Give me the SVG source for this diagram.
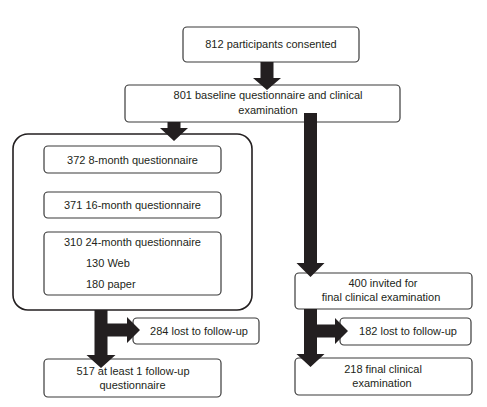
<svg xmlns="http://www.w3.org/2000/svg" width="487" height="407" viewBox="0 0 487 407">
<style>
.b{fill:#fff;stroke:#3a3a3a;stroke-width:1.2}
.big{fill:#fff;stroke:#231f20;stroke-width:1.6}
.t{font-family:"Liberation Sans",Arial,sans-serif;font-size:11px;fill:#231f20}
.c{text-anchor:middle}
.a{fill:#231f20;stroke:none}
</style>
<rect width="487" height="407" fill="#fff"/>
<g id="n812"><rect class="b" x="183" y="27" width="176" height="35" rx="4"/><text class="t c" x="271" y="48">812 participants consented</text></g>
<g id="n801"><rect class="b" x="125" y="85" width="275" height="37" rx="4"/><text class="t c" x="268" y="99">801 baseline questionnaire and clinical</text><text class="t c" x="268" y="114">examination</text></g>
<g id="followup"><rect class="big" x="13" y="134" width="239" height="176" rx="15"/>
<g id="q8"><rect class="b" x="44" y="146" width="177" height="27" rx="4"/><text class="t c" x="132.5" y="164">372 8-month questionnaire</text></g>
<g id="q16"><rect class="b" x="44" y="192" width="177" height="26" rx="4"/><text class="t c" x="132.5" y="209">371 16-month questionnaire</text></g>
<g id="q24"><rect class="b" x="44" y="232" width="177" height="63" rx="4"/><text class="t c" x="132.5" y="246">310 24-month questionnaire</text><text class="t" x="86" y="267">130 Web</text><text class="t" x="86" y="288">180 paper</text></g>
</g>
<g id="n400"><rect class="b" x="295" y="273" width="177" height="36" rx="4"/><text class="t c" x="383" y="287">400 invited for</text><text class="t c" x="381" y="301">final clinical examination</text></g>
<g id="n284"><rect class="b" x="133" y="318" width="126" height="26" rx="4"/><text class="t c" x="199" y="335">284 lost to follow-up</text></g>
<g id="n182"><rect class="b" x="340" y="318" width="131" height="27" rx="4"/><text class="t c" x="408" y="335">182 lost to follow-up</text></g>
<g id="n517"><rect class="b" x="44" y="359" width="177" height="38" rx="4"/><text class="t c" x="133" y="375">517 at least 1 follow-up</text><text class="t c" x="132.5" y="389">questionnaire</text></g>
<g id="n218"><rect class="b" x="295" y="358" width="177" height="37" rx="4"/><text class="t c" x="383" y="373">218 final clinical</text><text class="t c" x="382" y="387">examination</text></g>
<g id="connectors">
<polygon class="a" points="260.5,62 273.5,62 273.5,78 281,78 267,90 253,78 260.5,78"/>
<polygon class="a" points="167.5,122 180.5,122 180.5,128 188,128 174,141 160,128 167.5,128"/>
<polygon class="a" points="304,113 317,113 317,263 324.5,263 310.5,277 296.5,263 304,263"/>
<polygon class="a" points="94.5,310 107.5,310 107.5,323.5 127,323.5 127,317 140,330 127,343 127,336.5 107.5,336.5 107.5,355 115.5,355 101,368 86.5,355 94.5,355"/>
<polygon class="a" points="304,309 317,309 317,324.5 335,324.5 335,318 348,331 335,344 335,337.5 317,337.5 317,354 324.5,354 310.5,367 296.5,354 304,354"/>
</g>
</svg>
